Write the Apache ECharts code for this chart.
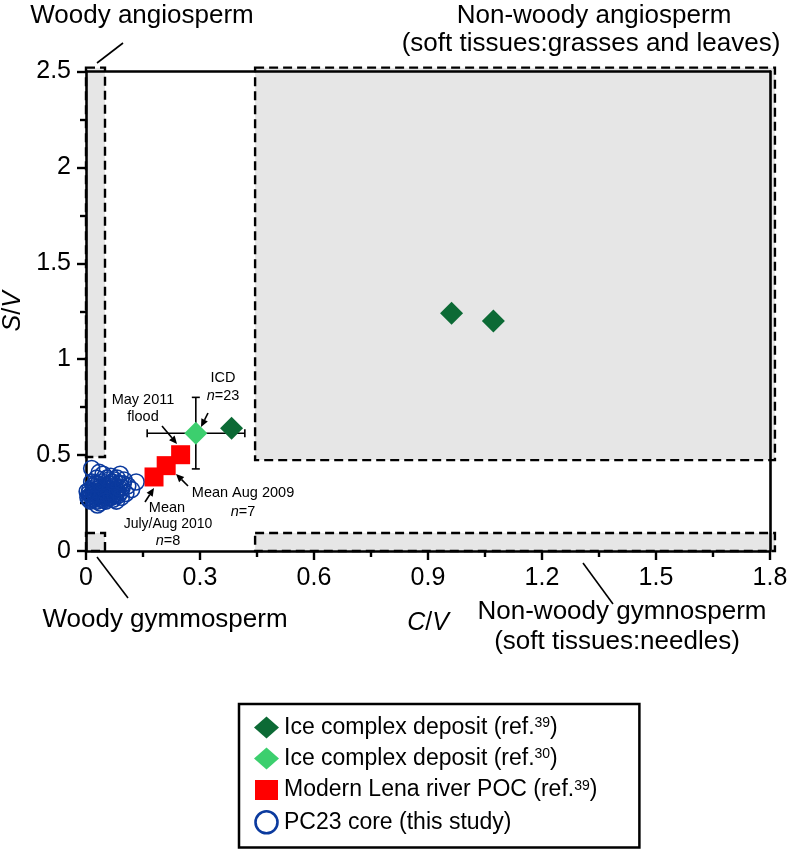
<!DOCTYPE html>
<html><head><meta charset="utf-8">
<script src="https://cdn.jsdelivr.net/npm/echarts@6/dist/echarts.min.js"></script>
<style>html,body{margin:0;padding:0;background:#fff}#c{width:788px;height:851px}</style>
</head><body><div id="c"></div>
<script>
// ---- data ----
const xTickValues = [0, 0.3, 0.6, 0.9, 1.2, 1.5, 1.8];
const yTickValues = [0, 0.5, 1, 1.5, 2, 2.5];
const iceComplex39 = [[0.383, 0.640], [0.962, 1.239], [1.072, 1.199]];
const iceComplex30 = [[0.289, 0.614]];
const icd30ErrorX = [0.161, 0.418];
const icd30ErrorY = [0.428, 0.801];
const lenaPOC39 = [[0.179, 0.386], [0.211, 0.445], [0.249, 0.502]];
const pc23Core = [
  [0.005,0.28],[0.008,0.30],[0.010,0.32],[0.012,0.26],[0.015,0.43],[0.015,0.29],[0.018,0.31],
  [0.020,0.27],[0.020,0.34],[0.022,0.30],[0.025,0.28],[0.025,0.32],[0.028,0.29],[0.030,0.26],
  [0.030,0.31],[0.032,0.35],[0.035,0.28],[0.035,0.30],[0.037,0.25],[0.038,0.33],[0.040,0.29],
  [0.040,0.31],[0.042,0.27],[0.045,0.32],[0.045,0.30],[0.048,0.28],[0.050,0.34],[0.050,0.31],
  [0.052,0.29],[0.055,0.27],[0.055,0.33],[0.058,0.30],[0.060,0.32],[0.060,0.28],[0.062,0.35],
  [0.065,0.30],[0.068,0.33],[0.070,0.29],[0.070,0.31],[0.072,0.27],[0.075,0.34],[0.078,0.30],
  [0.080,0.32],[0.082,0.38],[0.085,0.29],[0.088,0.35],[0.090,0.40],[0.092,0.31],[0.095,0.33],
  [0.100,0.37],[0.105,0.30],[0.110,0.34],[0.132,0.36],[0.045,0.40],[0.028,0.38],[0.060,0.37],
  [0.015,0.36],[0.080,0.26],[0.035,0.41],[0.065,0.39],
  [0.012,0.29],[0.018,0.27],[0.022,0.33],[0.027,0.31],[0.033,0.29],[0.038,0.27],[0.043,0.30],
  [0.047,0.33],[0.053,0.31],[0.057,0.29],[0.063,0.31],[0.067,0.28],[0.073,0.32],[0.077,0.29],
  [0.083,0.31],[0.087,0.33],[0.098,0.35],[0.008,0.27],[0.025,0.35],[0.042,0.36],[0.052,0.26],
  [0.070,0.36],[0.093,0.28],[0.120,0.32],[0.003,0.31],[0.030,0.24],[0.055,0.38],[0.075,0.37]
];
// region bounds: [xMin, yMin, xMax, yMax]
const regionWoodyAngio = [0, 0.49, 0.05, 2.52];
const regionWoodyGymno = [0, 0, 0.05, 0.094];
const regionSoftAngio = [0.445, 0.474, 1.813, 2.52];
const regionSoftGymno = [0.445, 0, 1.813, 0.094];

const FONT = "'Liberation Sans', Arial, Helvetica, sans-serif";
const chart = echarts.init(document.getElementById('c'), null, {renderer: 'canvas'});

function arrow(x1, y1, x2, y2) {
  const ang = Math.atan2(y2 - y1, x2 - x1);
  const L = 8, W = 3.6;
  const bx = x2 - L * Math.cos(ang), by = y2 - L * Math.sin(ang);
  const px = -Math.sin(ang) * W, py = Math.cos(ang) * W;
  return [
    {type: 'line', shape: {x1: x1, y1: y1, x2: bx, y2: by}, style: {stroke: '#000', lineWidth: 1.6}},
    {type: 'polygon', shape: {points: [[x2, y2], [bx + px, by + py], [bx - px, by - py]]}, style: {fill: '#000'}}
  ];
}
function txt(x, y, text, size) {
  return {type: 'text', x: x, y: y, style: {text: text, font: size + 'px ' + FONT, fill: '#000',
    align: 'center', verticalAlign: 'middle', rich: {i: {fontStyle: 'italic', fontSize: size, fontFamily: FONT}}}};
}
function lead(x1, y1, x2, y2) {
  return {type: 'line', shape: {x1: x1, y1: y1, x2: x2, y2: y2}, style: {stroke: '#000', lineWidth: 1.6}};
}

const graphics = [
  txt(142, 16, 'Woody angiosperm', 26),
  lead(123, 43, 97, 63),
  txt(594, 16, 'Non-woody angiosperm', 26),
  txt(591, 44, '(soft tissues:grasses and leaves)', 26),
  txt(165, 620, 'Woody gymmosperm', 26),
  lead(97, 557, 128, 598),
  txt(622, 612, 'Non-woody gymnosperm', 26),
  txt(617, 642, '(soft tissues:needles)', 26),
  lead(583, 563, 613, 604),
  txt(223, 378, 'ICD', 14.5),
  txt(223, 396, '{i|n}=23', 14.5),
  txt(143, 400, 'May 2011', 14.5),
  txt(143, 417, 'flood', 14.5),
  txt(243, 493, 'Mean Aug 2009', 14.5),
  txt(243, 512, '{i|n}=7', 14.5),
  txt(167, 508, 'Mean', 14.5),
  txt(168, 524, 'July/Aug 2010', 14),
  txt(168, 541, '{i|n}=8', 14.5)
].concat(arrow(208, 413, 201, 427), arrow(162, 426, 177, 444), arrow(188, 486, 176, 474), arrow(145, 502, 154, 488));

function regionItem(params, api) {
  const p0 = api.coord([api.value(0), api.value(1)]);
  const p1 = api.coord([api.value(2), api.value(3)]);
  return {type: 'rect', shape: {x: p0[0], y: p1[1], width: p1[0] - p0[0], height: p0[1] - p1[1]},
    style: {fill: '#e6e6e6', stroke: '#000', lineWidth: 2.4, lineDash: [9, 5]}};
}
function errItem(params, api) {
  const c = api.coord([api.value(0), api.value(1)]);
  const xl = api.coord([api.value(2), api.value(1)]);
  const xh = api.coord([api.value(3), api.value(1)]);
  const yl = api.coord([api.value(0), api.value(4)]);
  const yh = api.coord([api.value(0), api.value(5)]);
  const s = {stroke: '#000', lineWidth: 1.6};
  const h = 4;
  return {type: 'group', children: [
    {type: 'line', shape: {x1: xl[0], y1: c[1], x2: xh[0], y2: c[1]}, style: s},
    {type: 'line', shape: {x1: xl[0], y1: c[1] - h, x2: xl[0], y2: c[1] + h}, style: s},
    {type: 'line', shape: {x1: xh[0], y1: c[1] - h, x2: xh[0], y2: c[1] + h}, style: s},
    {type: 'line', shape: {x1: c[0], y1: yl[1], x2: c[0], y2: yh[1]}, style: s},
    {type: 'line', shape: {x1: c[0] - h, y1: yl[1], x2: c[0] + h, y2: yl[1]}, style: s},
    {type: 'line', shape: {x1: c[0] - h, y1: yh[1], x2: c[0] + h, y2: yh[1]}, style: s}
  ]};
}

const axisBase = {
  type: 'value', z: 5,
  axisLine: {show: true, onZero: false, lineStyle: {color: '#000', width: 2.6}},
  axisTick: {show: true, inside: false, length: 9, lineStyle: {color: '#000', width: 2.4}},
  minorTick: {show: true, splitNumber: 2, length: 6, lineStyle: {color: '#000', width: 2.4}},
  splitLine: {show: false},
  axisLabel: {fontSize: 25, fontFamily: FONT, color: '#000', margin: 15},
  nameTextStyle: {fontSize: 25, fontFamily: FONT, color: '#000',
    rich: {i: {fontStyle: 'italic', fontSize: 25, fontFamily: FONT, color: '#000'}, n: {fontSize: 25, fontFamily: FONT, color: '#000'}}}
};
const frameAxis = {type: 'value', z: 5, axisLine: {show: true, onZero: false, lineStyle: {color: '#000', width: 2.6}},
  axisTick: {show: false}, axisLabel: {show: false}, splitLine: {show: false}};

const legendNames = ['Ice complex deposit (ref.39)', 'Ice complex deposit (ref.30)', 'Modern Lena river POC (ref.39)', 'PC23 core (this study)'];

chart.setOption({
  animation: false,
  backgroundColor: '#fff',
  grid: {left: 86, right: 18, top: 71.5, bottom: 300, containLabel: false, outerBoundsMode: 'none'},
  xAxis: [
    Object.assign({}, axisBase, {min: xTickValues[0], max: xTickValues[xTickValues.length - 1], interval: 0.3,
      name: '{i|C}{n|/}{i|V}', nameLocation: 'middle', nameGap: 60,
      axisLabel: Object.assign({}, axisBase.axisLabel, {formatter: v => String(+v.toFixed(1))})}),
    Object.assign({}, frameAxis, {position: 'top', min: 0, max: 1.8})
  ],
  yAxis: [
    Object.assign({}, axisBase, {min: yTickValues[0], max: yTickValues[yTickValues.length - 1], interval: 0.5,
      name: '{i|S}{n|/}{i|V}', nameLocation: 'middle', nameGap: 58,
      axisLabel: Object.assign({}, axisBase.axisLabel, {formatter: v => String(+v.toFixed(1))})}),
    Object.assign({}, frameAxis, {position: 'right', min: 0, max: 2.5})
  ],
  legend: {
    orient: 'vertical', left: 239, top: 704, height: 300,
    itemWidth: 25, itemHeight: 22, itemGap: 8,
    padding: [12, 42, 13, 14],
    borderColor: '#000', borderWidth: 2.5,
    textStyle: {fontSize: 23, lineHeight: 22, fontFamily: FONT, color: '#000',
      rich: {sup: {fontSize: 14, lineHeight: 14, fontFamily: FONT, color: '#000', verticalAlign: 'top'},
             t: {fontSize: 23, lineHeight: 22, fontFamily: FONT, color: '#000'}}},
    formatter: name => {
      const m = name.match(/^(.*ref\.)(\d+)\)$/);
      return m ? '{t|' + m[1] + '}{sup|' + m[2] + '}{t|)}' : '{t|' + name + '}';
    },
    data: [
      {name: legendNames[0], icon: 'diamond'},
      {name: legendNames[1], icon: 'diamond'},
      {name: legendNames[2], icon: 'rect', itemStyle: {borderColor: '#fff', borderWidth: 2}},
      {name: legendNames[3], icon: 'circle', itemStyle: {color: 'rgba(255,255,255,0)', borderColor: '#0b3a9e', borderWidth: 2.6}}
    ]
  },
  graphic: graphics,
  series: [
    {type: 'custom', name: 'regions', z: 1, clip: false, silent: true,
      renderItem: regionItem,
      data: [regionWoodyAngio, regionWoodyGymno, regionSoftAngio, regionSoftGymno]},
    {type: 'custom', name: 'icdError', z: 6, clip: false, silent: true,
      renderItem: errItem,
      data: [[iceComplex30[0][0], iceComplex30[0][1], icd30ErrorX[0], icd30ErrorX[1], icd30ErrorY[0], icd30ErrorY[1]]]},
    {type: 'scatter', name: legendNames[3], z: 7, data: pc23Core, symbol: 'circle', symbolSize: 16,
      itemStyle: {color: 'rgba(255,255,255,0)', borderColor: '#0b3a9e', borderWidth: 1.6, opacity: 1}},
    {type: 'scatter', name: legendNames[2], z: 8, data: lenaPOC39, symbol: 'rect', symbolSize: 19,
      itemStyle: {color: '#ff0000', opacity: 1}},
    {type: 'scatter', name: legendNames[1], z: 9, data: iceComplex30, symbol: 'diamond', symbolSize: [23, 23],
      itemStyle: {color: '#3ccf6e', opacity: 1}},
    {type: 'scatter', name: legendNames[0], z: 9, data: iceComplex39, symbol: 'diamond', symbolSize: [23, 23],
      itemStyle: {color: '#0c6a35', opacity: 1}}
  ]
});
</script></body></html>
